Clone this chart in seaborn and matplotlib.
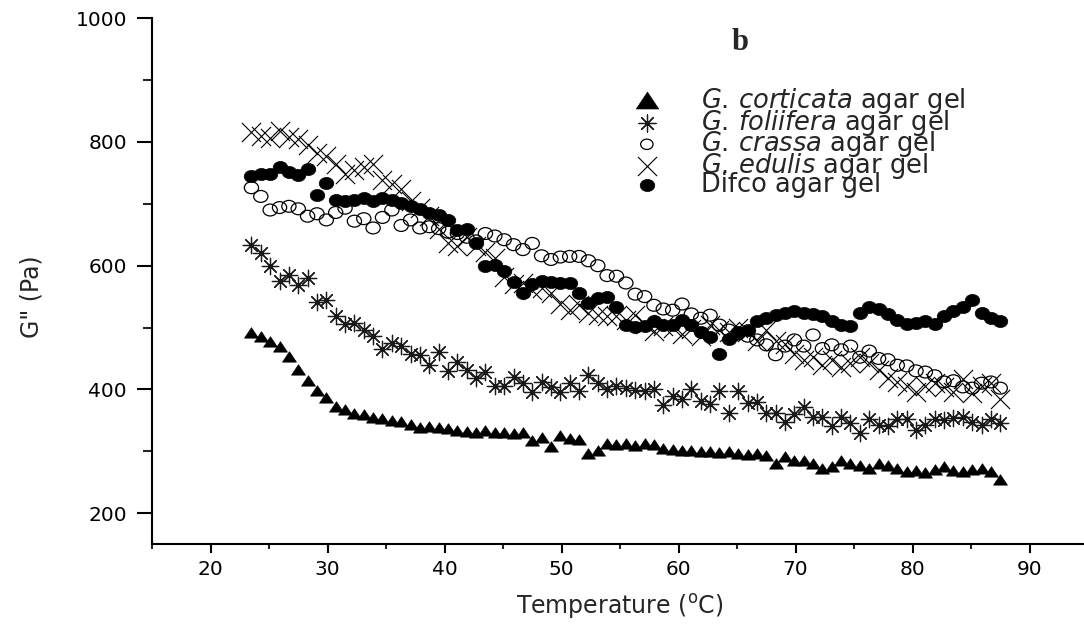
import numpy as np
import pandas as pd
import matplotlib
matplotlib.use("Agg")
import matplotlib.pyplot as plt
import seaborn as sns
from matplotlib.ticker import MultipleLocator
from matplotlib.path import Path
from matplotlib.transforms import Affine2D

temperature = [23.5, 24.3, 25.1, 25.9, 26.7, 27.5, 28.3, 29.1, 29.9, 30.7,
               31.5, 32.3, 33.1, 33.9, 34.7, 35.5, 36.3, 37.1, 37.9, 38.7,
               39.5, 40.3, 41.1, 41.9, 42.7, 43.5, 44.3, 45.1, 45.9, 46.7,
               47.5, 48.3, 49.1, 49.9, 50.7, 51.5, 52.3, 53.1, 53.9, 54.7,
               55.5, 56.3, 57.1, 57.9, 58.7, 59.5, 60.3, 61.1, 61.9, 62.7,
               63.5, 64.3, 65.1, 65.9, 66.7, 67.5, 68.3, 69.1, 69.9, 70.7,
               71.5, 72.3, 73.1, 73.9, 74.7, 75.5, 76.3, 77.1, 77.9, 78.7,
               79.5, 80.3, 81.1, 81.9, 82.7, 83.5, 84.3, 85.1, 85.9, 86.7, 87.5]

corticata = [491, 484, 476, 468, 452, 432, 414, 398, 386, 372,
             366, 360, 358, 354, 352, 349, 347, 342, 338, 339,
             337, 336, 333, 331, 330, 332, 329, 330, 328, 330,
             316, 322, 307, 325, 320, 318, 296, 300, 312, 310,
             312, 308, 312, 310, 304, 302, 301, 300, 299, 299,
             297, 298, 296, 294, 296, 292, 280, 291, 284, 285,
             280, 272, 275, 285, 280, 276, 272, 280, 276, 272,
             266, 268, 264, 270, 275, 268, 266, 270, 272, 266, 253]

foliifera = [634, 620, 600, 575, 585, 568, 580, 542, 545, 518,
             505, 508, 496, 486, 465, 475, 470, 458, 456, 440,
             460, 430, 445, 432, 418, 428, 405, 405, 420, 410,
             396, 412, 404, 396, 410, 398, 424, 410, 400, 406,
             402, 399, 398, 400, 374, 390, 384, 400, 382, 376,
             398, 362, 398, 378, 380, 362, 362, 348, 360, 372,
             356, 356, 340, 356, 346, 330, 352, 342, 340, 352,
             352, 334, 342, 352, 350, 354, 355, 348, 342, 352, 346]

crassa = [726, 712, 690, 694, 696, 692, 680, 684, 674, 686,
          693, 672, 676, 661, 678, 690, 665, 674, 661, 663,
          660, 654, 652, 646, 640, 652, 648, 642, 634, 626,
          636, 616, 610, 614, 615, 615, 608, 600, 584, 583,
          572, 554, 550, 536, 530, 528, 538, 522, 515, 520,
          504, 496, 490, 486, 480, 472, 456, 470, 480, 470,
          488, 466, 472, 464, 470, 452, 462, 450, 448, 439,
          438, 430, 428, 422, 412, 414, 404, 402, 410, 412, 402]

edulis = [816, 810, 806, 818, 808, 805, 795, 782, 777, 764,
          748, 754, 760, 764, 738, 732, 724, 704, 694, 680,
          660, 636, 632, 646, 632, 622, 612, 582, 570, 572,
          560, 564, 556, 538, 528, 536, 524, 520, 518, 518,
          512, 520, 506, 494, 502, 500, 490, 498, 486, 504,
          496, 492, 500, 494, 478, 496, 478, 474, 458, 448,
          452, 440, 447, 436, 442, 452, 442, 432, 418, 412,
          406, 396, 406, 410, 404, 396, 416, 394, 406, 410, 385]

difco = [745, 748, 748, 760, 752, 746, 756, 714, 734, 706,
         704, 707, 710, 704, 710, 706, 701, 697, 691, 685,
         682, 674, 657, 660, 636, 600, 601, 591, 574, 556,
         570, 576, 574, 572, 572, 556, 540, 548, 550, 534,
         504, 501, 502, 510, 504, 504, 512, 504, 492, 485,
         458, 482, 492, 496, 510, 516, 520, 523, 526, 523,
         522, 518, 510, 504, 502, 524, 534, 530, 522, 512,
         506, 508, 510, 506, 518, 526, 534, 545, 524, 515, 510]

labels = [r"$\mathit{G.\,corticata}$ agar gel",
          r"$\mathit{G.\,foliifera}$ agar gel",
          r"$\mathit{G.\,crassa}$ agar gel",
          r"$\mathit{G.\,edulis}$ agar gel",
          "Difco agar gel"]

sns.set_style("ticks")
plt.rcParams['font.family'] = ['DejaVu Sans']
plt.rcParams['mathtext.fontset'] = 'dejavusans'

# horizontally widened marker shapes (the original figure is stretched sideways)
ellipse = Path.unit_circle().transformed(Affine2D().scale(1.2, 1.0))
tri = Path([(0, 1), (-1.2, -0.8), (1.2, -0.8), (0, 1)],
           [Path.MOVETO, Path.LINETO, Path.LINETO, Path.CLOSEPOLY])

W, H = 1084, 626
fig = plt.figure(figsize=(W / 100, H / 100), dpi=100)
x0, x1 = 152, 1088
ytop, ybot = 18.3, 544
ax = fig.add_axes([x0 / W, 1 - ybot / H, (x1 - x0) / W, (ybot - ytop) / H])

sns.scatterplot(x=temperature, y=corticata, ax=ax, marker=tri, s=100,
                color='black', edgecolor='black', linewidth=0.5, label=labels[0], zorder=3)
sns.scatterplot(x=temperature, y=foliifera, ax=ax, marker=(8, 2, 0), s=140,
                color='#1a1a1a', linewidth=0.9, label=labels[1], zorder=3)
sns.scatterplot(x=temperature, y=crassa, ax=ax, marker=ellipse, s=105,
                color='none', edgecolor='black', linewidth=0.9, label=labels[2], zorder=3)
sns.scatterplot(x=temperature, y=edulis, ax=ax, marker='x', s=190,
                color='black', linewidth=0.8, label=labels[3], zorder=3)
sns.scatterplot(x=temperature, y=difco, ax=ax, marker=ellipse, s=110,
                color='black', edgecolor='black', linewidth=0.5, label=labels[4], zorder=3)

ax.set_xlim(15, 95)
ax.set_ylim(150, 1000)
ax.xaxis.set_minor_locator(MultipleLocator(5))
ax.yaxis.set_minor_locator(MultipleLocator(100))
ax.set_xticks([20, 30, 40, 50, 60, 70, 80, 90])
ax.set_yticks([200, 400, 600, 800, 1000])

for side in ['top', 'right']:
    ax.spines[side].set_visible(False)
for side in ['left', 'bottom']:
    ax.spines[side].set_linewidth(1.5)
    ax.spines[side].set_color('black')

ax.tick_params(axis='y', which='major', length=11, width=1.5, labelsize=14.5, pad=7, colors='black')
ax.tick_params(axis='y', which='minor', length=6.5, width=1.5)
ax.tick_params(axis='x', which='major', length=6.5, width=1.5, labelsize=14.5, pad=5, colors='black')
ax.tick_params(axis='x', which='minor', length=3.6, width=1.5)

ax.set_xlabel("")
ax.set_ylabel("")
fig.text(620 / W, 1 - 606 / H, r"Temperature ($^{\rm o}$C)", ha='center', va='center', fontsize=17)
fig.text(32 / W, 1 - 297 / H, 'G" (Pa)', ha='center', va='center', fontsize=17, rotation=90)
fig.text(740 / W, 1 - 43 / H, "b", ha='center', va='center', fontsize=22,
         fontweight='bold', family='Liberation Serif')

leg = ax.legend(loc='upper left', bbox_to_anchor=(634 / W, 1 - 86 / H),
                bbox_transform=fig.transFigure, frameon=False, fontsize=18.5,
                handlelength=1.0, handletextpad=1.6, labelspacing=-0.33,
                borderpad=0, borderaxespad=0)
legend_sizes = [260, 150, 80, 190, 110]
for h, sz in zip(leg.legend_handles, legend_sizes):
    h.set_sizes([sz])

fig.savefig("out.png", dpi=100)
